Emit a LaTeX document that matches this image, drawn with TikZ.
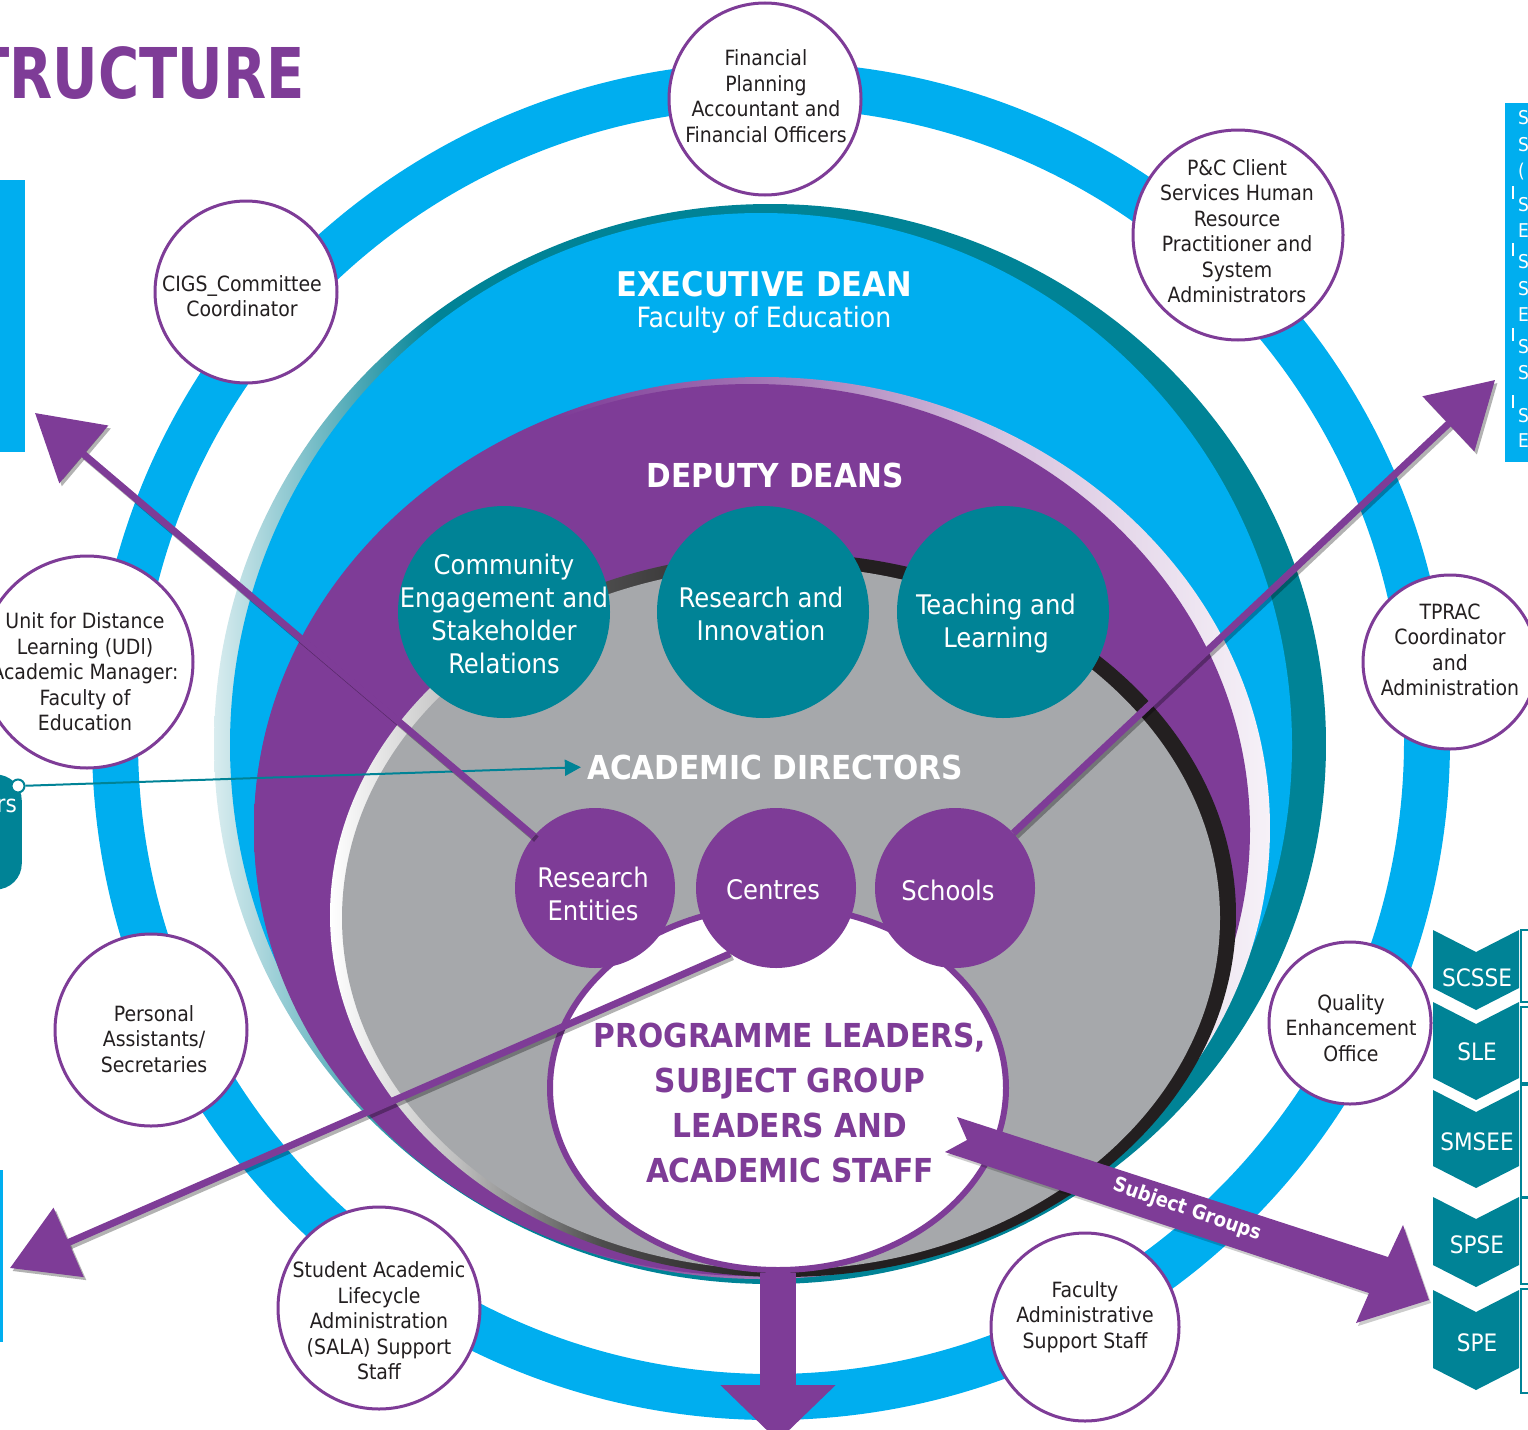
\documentclass[tikz,border=0pt]{standalone}
\usepackage{fontspec}
\setmainfont{DejaVu Sans Condensed}
\usetikzlibrary{arrows.meta,shapes.geometric}
\definecolor{cblue}{HTML}{00AEEF}
\definecolor{cteal}{HTML}{008396}
\definecolor{cpurple}{HTML}{7E3C97}
\definecolor{cgrey}{HTML}{A6A8AB}
\definecolor{cdark}{HTML}{231F20}
\colorlet{tealpale}{white!85!cteal}
\colorlet{purpmid}{white!35!cpurple}
\colorlet{purplight}{white!70!cpurple}
\colorlet{purppale}{white!93!cpurple}
\colorlet{greylight}{white!75!black}
\colorlet{greydark}{white!30!black}
\pgfdeclarehorizontalshading{execshell}{100bp}{color(0bp)=(white); color(25bp)=(tealpale); color(35bp)=(cteal); color(100bp)=(cteal)}
\pgfdeclarehorizontalshading{purpshell}{100bp}{color(0bp)=(cpurple); color(40bp)=(cpurple); color(52bp)=(purpmid); color(62bp)=(purplight); color(75bp)=(purppale); color(100bp)=(purppale)}
\pgfdeclarehorizontalshading{greyshell}{100bp}{color(0bp)=(white); color(25bp)=(white); color(32bp)=(greylight); color(40bp)=(greydark); color(50bp)=(cdark); color(100bp)=(cdark)}
\tikzset{
  ocirc/.style={circle, draw=cpurple, line width=3pt, fill=white, inner sep=0pt},
  otext/.style={align=center, text=cdark, font=\fontsize{21}{25.5}\selectfont, inner sep=0pt},
  dcirc/.style={circle, fill=cteal, inner sep=0pt, minimum size=212pt},
  dtext/.style={align=center, text=white, font=\fontsize{27}{33}\selectfont, inner sep=0pt},
  acirc/.style={circle, fill=cpurple, inner sep=0pt, minimum size=160pt},
  hdtext/.style={text=white, font=\fontsize{33}{38}\selectfont\bfseries, inner sep=0pt},
  thinarrow/.style={draw=cpurple, line width=7pt, -{Triangle[length=64pt,width=74pt]}},
  arrowshadow/.style={draw=black, opacity=0.3, line width=7pt, -{Triangle[length=64pt,width=74pt]}, transform canvas={shift={(2.5pt,-3pt)}}},
  chevtext/.style={text=white, font=\fontsize{24}{28}\selectfont, inner sep=0pt},
  striplet/.style={text=white, font=\fontsize{19}{22}\selectfont, inner sep=0pt, anchor=west},
}
\begin{document}
\begin{tikzpicture}[x=1pt,y=-1pt]
\useasboundingbox (0,0) rectangle (1528,1429);
\clip (0,0) rectangle (1528,1429);

% outer ring
\draw[cblue, line width=46pt] (771,741) circle [radius=656];

% edge fragments
\fill[cblue] (-5,180) rectangle (25,452);
\fill[cblue] (-5,1170) rectangle (3,1342);
\fill[cblue] (1505,103) rectangle (1540,462);
\foreach \yy/\cc [count=\i] in {118/S,145/S,172/(,205/S,231/E,262/S,289/S,315/E,347/S,373/S,416/S,441/E}
  \node[striplet] (sl\i) at (1518,\yy) {\cc};
\foreach \ya/\yb in {186/199,243/256,328/341,395/408}
  \draw[white, line width=1.5pt] (1513,\ya) -- (1513,\yb);

% executive dean ellipse
\shade[shading=execshell] (770,744) ellipse [x radius=556, y radius=540];
\fill[cblue] (761,745) ellipse [x radius=531, y radius=532];
% deputy deans ellipse
\shade[shading=purpshell] (762,828) ellipse [x radius=508, y radius=451];
\fill[cpurple] (752,830) ellipse [x radius=498, y radius=446];
% academic directors ellipse
\shade[shading=greyshell] (783,915) ellipse [x radius=453, y radius=362];
\fill[cgrey] (781,918) ellipse [x radius=439, y radius=352];

\node[hdtext, font=\fontsize{34}{40}\selectfont\bfseries] (ed) at (764,284) {EXECUTIVE DEAN};
\node[text=white, font=\fontsize{28}{32}\selectfont, inner sep=0pt] (foe) at (764,320) {Faculty of Education};
\node[hdtext] (dd) at (775,475) {DEPUTY DEANS};
\node[hdtext] (adt) at (775,767) {ACADEMIC DIRECTORS};

% deputy dean circles
\node[dcirc] (ce) at (504,612) {};
\node[dcirc] (ri) at (763,612) {};
\node[dcirc] (tl) at (1003,612) {};
\node[dtext] (ce-t) at (504,614) {Community\\Engagement and\\Stakeholder\\Relations};
\node[dtext] (ri-t) at (761,614) {Research and\\Innovation};
\node[dtext] (tl-t) at (996,624) {Teaching and\\Learning};

% left teal fragment and connector
\node[fill=cteal, rounded corners=26pt, minimum width=90pt, minimum height=115pt, inner sep=0pt, anchor=east] (lt) at (22,832) {};
\node[text=white, font=\fontsize{24}{28}\selectfont, inner sep=0pt, anchor=east] (lt-t) at (17,806) {rs};
\node[circle, fill=white, draw=cteal, line width=2pt, minimum size=13pt, inner sep=0pt] (dot) at (18,786) {};
\draw[cteal, line width=2pt, -{Triangle[length=16pt,width=16pt]}, shorten >=6pt] (dot) -- (adt.west);

% programme leaders ellipse
\node[ellipse, draw=cpurple, line width=6pt, fill=white, minimum width=456pt, minimum height=364pt, inner sep=0pt] (pl) at (778,1088) {};

% academic director circles
\node[acirc] (re) at (595,888) {};
\node[acirc] (cen) at (776,888) {};
\node[acirc] (sc) at (955,888) {};

% thin arrows
\coordinate (tA) at (35,413);
\coordinate (tB) at (1495,380);
\coordinate (tC) at (10,1268);
\draw[arrowshadow] (re) -- (tA);
\draw[arrowshadow] (sc) -- (tB);
\draw[arrowshadow] (cen.-125) -- (tC);
\draw[thinarrow] (re) -- (tA);
\draw[thinarrow] (sc) -- (tB);
\draw[thinarrow] (cen.-125) -- (tC);

\node[dtext] (re-t) at (593,894) {Research\\Entities};
\node[dtext] (cen-t) at (773,890) {Centres};
\node[dtext] (sc-t) at (948,890) {Schools};

\node[text=cpurple, font=\fontsize{33}{45}\selectfont\bfseries, align=center, inner sep=0pt] (plt) at (790,1103)
  {PROGRAMME LEADERS,\\SUBJECT GROUP\\LEADERS AND\\ACADEMIC STAFF};

% subject groups arrow
\fill[black, opacity=0.2] (959,1120) -- (1390,1260) -- (1405,1228) -- (1431,1303) -- (1358,1326) -- (1371,1296) -- (947,1155) -- (969,1143) -- cycle;
\fill[cpurple] (957,1117) -- (1388,1257) -- (1403,1225) -- (1429,1300) -- (1356,1323) -- (1369,1293) -- (945,1152) -- (967,1140) -- cycle;
\node[text=white, font=\fontsize{20}{24}\selectfont\bfseries, rotate=-19, inner sep=0pt] (sg) at (1187,1210) {Subject Groups};

% down arrow
\coordinate (dtip) at (778,1441);
\draw[cpurple, line width=36pt, -{Triangle[length=56pt,width=112pt]}] (pl.south) -- (dtip);

% outer circles
\node[ocirc, minimum size=192pt] (fin) at (765,99) {};
\node[otext] (fin-t) at (766,96) {Financial\\Planning\\Accountant and\\Financial Officers};
\node[ocirc, minimum size=182pt] (cigs) at (246,292) {};
\node[otext] (cigs-t) at (242,296) {CIGS\_Committee\\Coordinator};
\node[ocirc, minimum size=210pt] (pc) at (1238,235) {};
\node[otext] (pc-t) at (1237,231) {P\&C Client\\Services Human\\Resource\\Practitioner and\\System\\Administrators};
\node[ocirc, minimum size=212pt] (udl) at (87,662) {};
\node[otext] (udl-t) at (85,672) {Unit for Distance\\Learning (UDl)\\Academic Manager:\\Faculty of\\Education};
\node[ocirc, minimum size=174pt] (tp) at (1450,662) {};
\node[otext] (tp-t) at (1450,650) {TPRAC\\Coordinator\\and\\Administration};
\node[ocirc, minimum size=192pt] (pa) at (151,1030) {};
\node[otext] (pa-t) at (154,1039) {Personal\\Assistants/\\Secretaries};
\node[ocirc, minimum size=162pt] (qe) at (1350,1023) {};
\node[otext] (qe-t) at (1351,1028) {Quality\\Enhancement\\Office};
\node[ocirc, minimum size=202pt] (sala) at (379,1308) {};
\node[otext] (sala-t) at (379,1321) {Student Academic\\Lifecycle\\Administration\\(SALA) Support\\Staff};
\node[ocirc, minimum size=188pt] (fas) at (1085,1327) {};
\node[otext] (fas-t) at (1085,1317) {Faculty\\Administrative\\Support Staff};

% chevrons
\foreach \tt/\bb/\ll/\lab [count=\i] in {930/1010/978/SCSSE,1002/1100/1052/SLE,1090/1188/1142/SMSEE,1197/1287/1245/SPSE,1290/1390/1343/SPE}{
  \fill[cteal] (1433,\tt) -- (1476,\tt+22) -- (1519,\tt) -- (1519,\bb-22) -- (1476,\bb) -- (1433,\bb-22) -- cycle;
  \node[chevtext] (ch\i) at (1477,\ll) {\lab};
}
\foreach \ya/\yb in {930/1002,1007/1083,1085/1197,1198/1284,1289/1393}
  \draw[cteal, line width=2pt] (1545,\ya) -- (1521,\ya) -- (1521,\yb) -- (1545,\yb);

% title
\node[text=cpurple, font=\fontsize{70}{80}\selectfont\bfseries, inner sep=0pt, anchor=east] (title) at (305,73) {\scalebox{0.89}[1]{TRUCTURE}};
\end{tikzpicture}
\end{document}
